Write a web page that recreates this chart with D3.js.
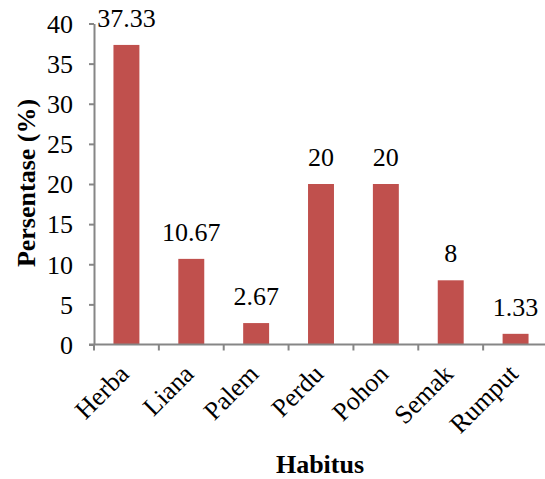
<!DOCTYPE html>
<html>
<head>
<meta charset="utf-8">
<script src="https://cdn.jsdelivr.net/npm/d3@7/dist/d3.min.js"></script>
<style>
  html, body { margin: 0; padding: 0; background: #fff; }
  svg { display: block; }
  svg text { font-family: "Liberation Serif", Tinos, "Times New Roman", serif; }
</style>
</head>
<body>
<svg id="chart" width="545" height="479"></svg>
<script>
// Growth habit categories and their share (%) of recorded species
const categories = ["Herba", "Liana", "Palem", "Perdu", "Pohon", "Semak", "Rumput"];
const values = [37.33, 10.67, 2.67, 20, 20, 8, 1.33];
const valueLabels = ["37.33", "10.67", "2.67", "20", "20", "8", "1.33"];
const yTicks = [0, 5, 10, 15, 20, 25, 30, 35, 40];

const svg = d3.select("#chart");
const axisColor = "#868686";
const barColor = "#C0504D";
const fontSize = "26px";

const plotLeft = 94, plotRight = 548, plotTop = 23.5, plotBottom = 344.5;

const x = d3.scaleBand().domain(categories).range([plotLeft, plotRight]).paddingInner(0.6).paddingOuter(0.3);
const y = d3.scaleLinear().domain([0, 40]).range([plotBottom, plotTop]);

// bars
svg.append("g").selectAll("rect")
  .data(categories)
  .join("rect")
  .attr("x", (d) => x(d))
  .attr("width", x.bandwidth())
  .attr("y", (d, i) => y(values[i]))
  .attr("height", (d, i) => y(0) - y(values[i]))
  .attr("fill", barColor);

// value labels above bars
svg.append("g").selectAll("text")
  .data(categories)
  .join("text")
  .attr("x", (d) => x(d) + x.bandwidth() / 2)
  .attr("y", (d, i) => y(values[i]) - 18)
  .attr("text-anchor", "middle")
  .style("font-size", fontSize)
  .attr("fill", "#000")
  .text((d, i) => valueLabels[i]);

// y axis
const yAxis = svg.append("g")
  .attr("transform", `translate(${plotLeft},0)`)
  .call(d3.axisLeft(y).tickValues(yTicks).tickSize(5).tickSizeOuter(0).tickPadding(16));
yAxis.attr("font-family", null).attr("font-size", null);
yAxis.select(".domain").attr("stroke", axisColor).attr("stroke-width", 2);
yAxis.selectAll(".tick line").attr("stroke", axisColor).attr("stroke-width", 2);
yAxis.selectAll(".tick text")
  .style("font-size", fontSize).attr("fill", "#000")
  .attr("dy", "0.34em");

// x axis: ticks sit at the category boundaries
const step = x.step();
const boundaries = d3.range(categories.length).map((i) => plotLeft + i * step);
const xAxisG = svg.append("g");
xAxisG.append("line")
  .attr("x1", plotLeft - 5).attr("x2", plotRight)
  .attr("y1", plotBottom).attr("y2", plotBottom)
  .attr("stroke", axisColor).attr("stroke-width", 2);
xAxisG.selectAll("line.tk")
  .data(boundaries)
  .join("line")
  .attr("class", "tk")
  .attr("x1", (d) => d).attr("x2", (d) => d)
  .attr("y1", plotBottom).attr("y2", plotBottom + 6)
  .attr("stroke", axisColor).attr("stroke-width", 2);

// rotated category labels
xAxisG.selectAll("text")
  .data(categories)
  .join("text")
  .attr("transform", (d) => `translate(${x(d) + x.bandwidth() / 2 + 4},${plotBottom + 31}) rotate(-45)`)
  .attr("text-anchor", "end")
  .style("font-size", fontSize)
  .attr("fill", "#000")
  .text((d) => d);

// axis titles
svg.append("text")
  .attr("transform", `translate(35,183) rotate(-90)`)
  .attr("text-anchor", "middle")
  .style("font-size", fontSize)
  .style("font-weight", "bold")
  .text("Persentase (%)");

svg.append("text")
  .attr("x", 320)
  .attr("y", 473)
  .attr("text-anchor", "middle")
  .style("font-size", fontSize)
  .style("font-weight", "bold")
  .text("Habitus");
</script>
</body>
</html>
